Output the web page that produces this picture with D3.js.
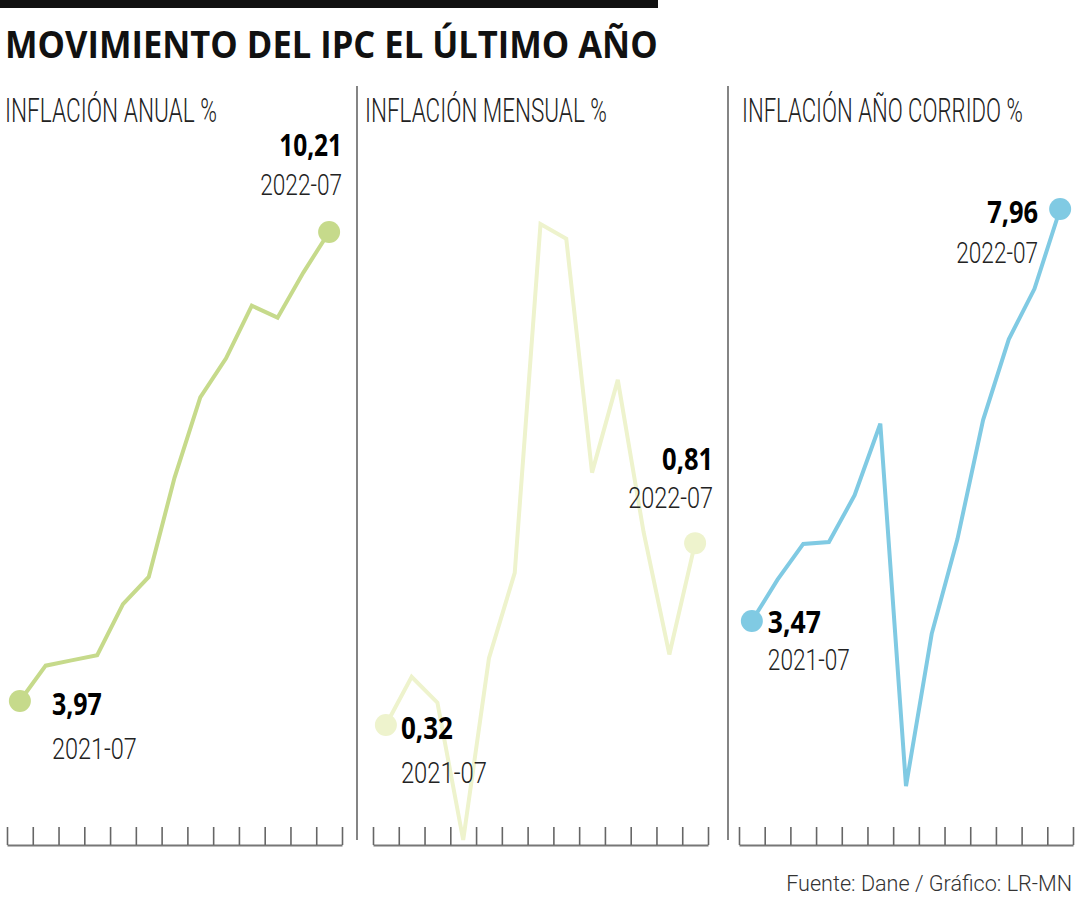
<!DOCTYPE html>
<html lang="es">
<head>
    <meta charset="UTF-8">
    <script src="https://d3js.org/d3.v7.min.js"></script>
    <title>Movimiento del IPC el último año</title>
    <style>
        body { margin: 0; background: #fff; }
    </style>
</head>
<body>
    <div id="chart"></div>
    <script>
        // datos (DANE), julio 2021 a julio 2022
        const months = ["2021-07", "2021-08", "2021-09", "2021-10", "2021-11", "2021-12",
                        "2022-01", "2022-02", "2022-03", "2022-04", "2022-05", "2022-06", "2022-07"];
        const anual = [3.97, 4.44, 4.51, 4.58, 5.26, 5.62, 6.94, 8.01, 8.53, 9.23, 9.07, 9.67, 10.21];
        const mensual = [0.32, 0.45, 0.38, 0.01, 0.50, 0.73, 1.67, 1.63, 1.00, 1.25, 0.84, 0.51, 0.81];
        const corrido = [3.47, 3.92, 4.31, 4.33, 4.84, 5.62, 1.67, 3.33, 4.36, 5.66, 6.54, 7.09, 7.96];
        const titles = ["INFLACIÓN ANUAL %", "INFLACIÓN MENSUAL %", "INFLACIÓN AÑO CORRIDO %"];

        const width = 1080, height = 900;
        const baseY = 845;
        const light = "Roboto, 'Open Sans', sans-serif";
        const bold = "'Open Sans', Roboto, sans-serif";

        const svg = d3.select("#chart").append("svg")
            .attr("width", width)
            .attr("height", height);

        // texto condensado: se escala en x hasta el ancho deseado
        function label(parent, str, x, y, w, opts) {
            const t = parent.append("text")
                .attr("text-anchor", opts.anchor || "start")
                .attr("font-family", opts.family)
                .attr("font-weight", opts.weight)
                .attr("font-size", opts.size + "px")
                .attr("fill", opts.fill || "#222")
                .text(str);
            const natural = t.node().getComputedTextLength();
            const s = natural > 0 ? w / natural : 1;
            t.attr("transform", `translate(${x},${y}) scale(${s},1)`);
            return t;
        }

        // barra superior y título
        svg.append("rect").attr("x", 0).attr("y", 0).attr("width", 658).attr("height", 8).attr("fill", "#111");
        label(svg, "MOVIMIENTO DEL IPC EL ÚLTIMO AÑO", 5, 58, 653,
            { family: bold, weight: 700, size: 37, fill: "#111" });

        const panels = [
            { values: anual, color: "#c6da8b", x0: 7, x1: 342, dom: [3.97, 10.21], rng: [701, 232],
              titleX: 5, titleW: 212,
              first: { dx: 32, dy: 14, anchor: "start", dyDate: 58, wv: 50, wd: 85 },
              last: { dx: 13, dy: -76, anchor: "end", dyDate: -37, wv: 63, wd: 82 } },
            { values: mensual, color: "#eef3cd", x0: 373, x1: 708, dom: [0.01, 1.67], rng: [840, 224],
              titleX: 365, titleW: 242,
              first: { dx: 15, dy: 14, anchor: "start", dyDate: 58, wv: 52, wd: 86 },
              last: { dx: 18, dy: -73, anchor: "end", dyDate: -35, wv: 51, wd: 85 } },
            { values: corrido, color: "#80cae3", x0: 739, x1: 1073, dom: [3.47, 7.96], rng: [621, 209],
              titleX: 742, titleW: 281,
              first: { dx: 16, dy: 12, anchor: "start", dyDate: 49, wv: 53, wd: 82 },
              last: { dx: -22, dy: 14, anchor: "end", dyDate: 54, wv: 51, wd: 82 } }
        ];

        // divisores verticales
        [357, 728].forEach(x => {
            svg.append("line")
                .attr("x1", x).attr("x2", x)
                .attr("y1", 86).attr("y2", 840)
                .attr("stroke", "#333").attr("stroke-width", 1.2);
        });

        panels.forEach((p, k) => {
            const g = svg.append("g");

            const xEdge = d3.scaleLinear().domain([0, months.length]).range([p.x0, p.x1]);
            const x = i => xEdge(i + 0.5);
            const y = d3.scaleLinear().domain(p.dom).range(p.rng);

            label(g, titles[k], p.titleX, 122, p.titleW,
                { family: light, weight: 300, size: 33, fill: "#222" });

            // eje inferior con marcas entre meses
            const axis = g.append("g")
                .attr("transform", `translate(0,${baseY})`)
                .call(d3.axisBottom(xEdge)
                    .tickValues(d3.range(months.length + 1))
                    .tickSize(-18).tickSizeOuter(0)
                    .tickFormat(""));
            axis.select(".domain").attr("stroke", "#777").attr("stroke-width", 2.2);
            axis.selectAll(".tick line").attr("stroke", "#666").attr("stroke-width", 1.6);

            const line = d3.line()
                .x((d, i) => x(i))
                .y(d => y(d));

            g.append("path")
                .datum(p.values)
                .attr("d", line)
                .attr("fill", "none")
                .attr("stroke", p.color)
                .attr("stroke-width", 4)
                .attr("stroke-linejoin", "miter");

            const n = p.values.length - 1;
            [0, n].forEach(i => {
                g.append("circle")
                    .attr("cx", x(i)).attr("cy", y(p.values[i]))
                    .attr("r", 11)
                    .attr("fill", p.color);
            });

            [[0, p.first], [n, p.last]].forEach(([i, a]) => {
                const cx = x(i), cy = y(p.values[i]);
                label(g, p.values[i].toFixed(2).replace(".", ","), cx + a.dx, cy + a.dy, a.wv,
                    { family: bold, weight: 700, size: 31, fill: "#000", anchor: a.anchor });
                label(g, months[i], cx + a.dx, cy + a.dyDate, a.wd,
                    { family: light, weight: 300, size: 30, fill: "#222", anchor: a.anchor });
            });
        });

        label(svg, "Fuente: Dane / Gráfico: LR-MN", 1072, 891, 286,
            { family: light, weight: 300, size: 22, fill: "#333", anchor: "end" });
    </script>
</body>
</html>
